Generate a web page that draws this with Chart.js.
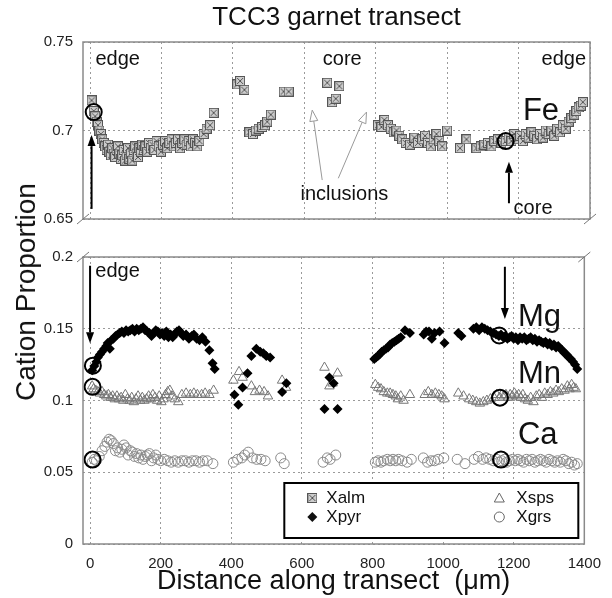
<!DOCTYPE html>
<html>
<head>
<meta charset="utf-8">
<script src="https://cdn.jsdelivr.net/npm/chart.js@4.4.0/dist/chart.umd.min.js"></script>
<style>
  html, body { margin: 0; padding: 0; background: #fff; }
  #wrap { position: relative; width: 612px; height: 598px; font-family: "Liberation Sans", Arial, sans-serif; }
  #top { position: absolute; left: 0; top: 0; }
  #bot { position: absolute; left: 0; top: 238px; }
  #ytitle { position: absolute; left: 26px; top: 292px; transform: translate(-50%, -50%) rotate(-90deg);
            font-size: 28px; white-space: nowrap; color: #111; }
</style>
</head>
<body>
<div id="wrap">
  <canvas id="top" width="612" height="238"></canvas>
  <canvas id="bot" width="612" height="360"></canvas>
  <div id="ytitle">Cation Proportion</div>
</div>
<script>
// distance (µm), cation proportion
const xalm = [
  [4,0.717],[10,0.711],[14,0.708],[18,0.705],[22,0.703],[26,0.700],[30,0.698],[34,0.695],[38,0.693],[42,0.691],
  [46,0.689],[50,0.692],[54,0.688],[58,0.686],[62,0.690],[66,0.687],[70,0.685],[74,0.689],[78,0.691],[82,0.687],
  [86,0.684],[90,0.686],[94,0.689],[98,0.683],[102,0.686],[106,0.690],[110,0.684],[114,0.687],[118,0.683],[122,0.689],
  [126,0.691],[130,0.687],[134,0.685],[138,0.690],[142,0.688],[146,0.692],[150,0.689],[155,0.691],[160,0.688],[165,0.693],
  [170,0.690],[175,0.692],[180,0.689],[186,0.694],[192,0.691],[198,0.688],[204,0.692],[210,0.694],[216,0.690],[222,0.693],
  [228,0.695],[234,0.691],[240,0.693],[246,0.695],[252,0.690],[258,0.693],[264,0.695],[270,0.692],[276,0.694],[282,0.691],
  [288,0.695],[294,0.693],[300,0.691],[306,0.694],[318,0.698],[326,0.701],[336,0.703],[346,0.710],
  [412,0.726],[420,0.728],[432,0.723],
  [446,0.699],[456,0.698],[464,0.700],[472,0.701],[482,0.702],[490,0.703],[496,0.705],[506,0.709],[542,0.722],[556,0.722],
  [664,0.727],[698,0.725],[678,0.716],[688,0.718],
  [806,0.703],[816,0.702],[824,0.706],[834,0.703],[842,0.701],[850,0.699],[858,0.700],[866,0.697],[874,0.695],[884,0.693],
  [896,0.692],[908,0.696],[918,0.693],[930,0.695],[938,0.697],[946,0.693],[954,0.691],[962,0.695],[970,0.698],[978,0.694],
  [986,0.691],[1000,0.700],[1036,0.690],[1054,0.695],[1082,0.690],[1094,0.691],[1104,0.692],[1114,0.693],[1124,0.691],[1132,0.694],
  [1142,0.695],[1152,0.693],[1164,0.694],[1172,0.696],[1180,0.694],[1188,0.698],[1196,0.695],[1204,0.697],[1212,0.694],[1220,0.698],
  [1228,0.696],[1236,0.699],[1244,0.697],[1252,0.695],[1260,0.698],[1268,0.696],[1276,0.700],[1284,0.698],[1292,0.700],[1300,0.697],
  [1308,0.701],[1316,0.699],[1324,0.703],[1332,0.701],[1340,0.705],[1348,0.707],[1356,0.709],[1362,0.711],[1368,0.713],[1374,0.714],
  [1380,0.716]
];
const xpyr = [
  [6,0.121],[12,0.124],[18,0.127],[22,0.130],[28,0.132],[34,0.134],[40,0.136],[46,0.138],[50,0.140],[56,0.136],
  [60,0.142],[66,0.143],[72,0.145],[78,0.146],[84,0.147],[90,0.148],[96,0.147],[102,0.149],[108,0.148],[114,0.149],
  [120,0.150],[126,0.148],[132,0.150],[138,0.149],[144,0.150],[150,0.151],[156,0.149],[162,0.148],[168,0.147],[174,0.145],
  [180,0.147],[186,0.149],[192,0.148],[198,0.146],[204,0.147],[210,0.145],[216,0.148],[222,0.144],[228,0.146],[234,0.144],
  [240,0.146],[246,0.148],[252,0.149],[258,0.147],[264,0.145],[272,0.146],[280,0.143],[288,0.145],[294,0.146],[302,0.143],
  [310,0.142],[318,0.144],[327,0.141],[338,0.135],[347,0.126],[353,0.122],
  [409,0.104],[420,0.097],[432,0.109],[446,0.119],[457,0.131],[471,0.136],[482,0.134],[491,0.133],[499,0.131],[510,0.130],
  [544,0.106],[556,0.112],
  [664,0.094],[678,0.116],[690,0.112],[701,0.094],
  [805,0.129],[810,0.130],[815,0.131],[820,0.132],[826,0.134],[832,0.135],[838,0.136],[844,0.137],[850,0.139],[856,0.140],
  [862,0.141],[868,0.142],[874,0.143],[880,0.144],[892,0.149],[906,0.147],[945,0.146],[952,0.148],[960,0.148],[968,0.143],
  [976,0.147],[990,0.148],[1004,0.140],[1043,0.147],[1052,0.145],[1086,0.150],[1094,0.151],[1102,0.149],[1110,0.151],[1118,0.150],
  [1126,0.149],[1134,0.148],[1142,0.147],[1150,0.146],[1158,0.145],[1164,0.146],[1170,0.144],[1176,0.145],[1182,0.143],[1188,0.144],
  [1194,0.145],[1200,0.143],[1206,0.144],[1212,0.142],[1218,0.144],[1224,0.143],[1230,0.144],[1236,0.142],[1242,0.143],[1248,0.144],
  [1254,0.142],[1260,0.143],[1266,0.141],[1272,0.142],[1278,0.141],[1284,0.140],[1290,0.141],[1296,0.139],[1302,0.140],[1308,0.138],
  [1314,0.139],[1320,0.137],[1326,0.138],[1332,0.136],[1338,0.135],[1344,0.133],[1350,0.132],[1356,0.130],[1362,0.129],[1368,0.127],
  [1374,0.125],[1380,0.122]
];
const xsps = [
  [6,0.110],[10,0.108],[16,0.107],[22,0.106],[28,0.105],[34,0.106],[40,0.104],[46,0.103],[52,0.104],[58,0.102],
  [64,0.103],[70,0.101],[76,0.103],[82,0.101],[88,0.102],[94,0.100],[100,0.104],[106,0.101],[112,0.100],[118,0.102],
  [124,0.099],[130,0.101],[136,0.103],[142,0.100],[148,0.102],[154,0.100],[160,0.101],[166,0.103],[172,0.101],[178,0.104],
  [184,0.102],[190,0.100],[196,0.103],[202,0.099],[208,0.101],[214,0.104],[220,0.106],[226,0.107],[232,0.103],[240,0.101],
  [250,0.099],[260,0.104],[272,0.105],[284,0.104],[294,0.105],[304,0.104],[316,0.104],[326,0.105],[338,0.104],[350,0.107],
  [406,0.114],[422,0.120],[432,0.116],[457,0.110],[467,0.106],[480,0.107],[493,0.106],[504,0.103],[544,0.114],[555,0.109],
  [664,0.123],[678,0.110],[687,0.112],[701,0.119],
  [808,0.111],[816,0.109],[824,0.108],[832,0.106],[842,0.105],[850,0.105],[858,0.104],[866,0.103],[872,0.101],[880,0.103],
  [888,0.100],[906,0.104],[948,0.104],[958,0.106],[968,0.104],[978,0.105],[988,0.104],[996,0.103],[1004,0.101],[1043,0.105],
  [1058,0.103],[1074,0.101],[1084,0.100],[1094,0.099],[1104,0.098],[1114,0.099],[1124,0.100],[1134,0.101],[1144,0.102],[1152,0.104],
  [1160,0.102],[1166,0.104],[1172,0.103],[1178,0.104],[1184,0.102],[1190,0.104],[1196,0.103],[1202,0.105],[1208,0.103],[1214,0.104],
  [1220,0.102],[1226,0.104],[1232,0.101],[1240,0.100],[1248,0.102],[1256,0.099],[1264,0.103],[1272,0.104],[1280,0.102],[1288,0.105],
  [1296,0.104],[1304,0.106],[1312,0.105],[1320,0.107],[1328,0.106],[1336,0.108],[1344,0.107],[1352,0.110],[1358,0.108],[1364,0.111],
  [1370,0.109],[1376,0.108]
];
const xgrs = [
  [6,0.057],[12,0.059],[18,0.058],[26,0.061],[34,0.065],[42,0.068],[48,0.071],[54,0.073],[60,0.072],[66,0.070],
  [72,0.065],[78,0.067],[84,0.064],[90,0.066],[96,0.069],[102,0.067],[108,0.062],[114,0.065],[120,0.064],[126,0.061],
  [132,0.063],[138,0.060],[144,0.062],[150,0.059],[156,0.061],[162,0.062],[168,0.063],[174,0.058],[180,0.060],[186,0.062],
  [192,0.059],[200,0.058],[210,0.059],[220,0.058],[230,0.057],[240,0.058],[250,0.057],[260,0.058],[270,0.058],[280,0.057],
  [290,0.058],[300,0.058],[310,0.057],[320,0.058],[332,0.058],[348,0.056],
  [406,0.057],[418,0.059],[430,0.060],[438,0.062],[448,0.064],[460,0.060],[472,0.059],[484,0.059],[496,0.058],[540,0.060],
  [550,0.056],
  [660,0.057],[672,0.060],[680,0.059],[696,0.062],
  [808,0.057],[816,0.058],[824,0.057],[832,0.058],[842,0.059],[850,0.058],[858,0.059],[866,0.058],[874,0.059],[884,0.058],
  [898,0.057],[910,0.059],[944,0.060],[956,0.057],[966,0.058],[976,0.058],[986,0.059],[1002,0.060],[1040,0.059],[1062,0.056],
  [1088,0.059],[1100,0.061],[1112,0.059],[1122,0.060],[1132,0.059],[1142,0.058],[1152,0.059],[1158,0.057],[1166,0.058],[1174,0.059],
  [1180,0.057],[1188,0.058],[1196,0.059],[1204,0.058],[1212,0.059],[1220,0.058],[1228,0.057],[1236,0.059],[1244,0.058],[1252,0.059],
  [1260,0.057],[1268,0.058],[1276,0.059],[1284,0.058],[1292,0.057],[1300,0.059],[1308,0.058],[1316,0.057],[1324,0.058],[1332,0.057],
  [1340,0.059],[1348,0.058],[1356,0.056],[1364,0.057],[1372,0.055],[1380,0.056]
];
// circled reference points
const markTop = [[10,0.7104],[1164,0.694]];
const markBot = [[8,0.1243],[7,0.1095],[7,0.0588],[1159,0.1453],[1161,0.102],[1164,0.0588]];

const xTicks = [0, 200, 400, 600, 800, 1000, 1200, 1400];
const topTicks = [0.65, 0.7, 0.75];
const botTicks = [0, 0.05, 0.1, 0.15, 0.2];

const FONT = '"Liberation Sans", Arial, sans-serif';
Chart.defaults.font.family = FONT;
Chart.defaults.color = '#222';

function almMarker() {
  const c = document.createElement('canvas');
  c.width = 10; c.height = 10;
  const g = c.getContext('2d');
  g.fillStyle = '#cccccc';
  g.fillRect(0, 0, 10, 10);
  g.strokeStyle = '#555';
  g.lineWidth = 1;
  g.strokeRect(0.5, 0.5, 9, 9);
  g.beginPath();
  g.moveTo(2, 2); g.lineTo(8, 8);
  g.moveTo(8, 2); g.lineTo(2, 8);
  g.stroke();
  return c;
}
const ALM = almMarker();
const pts = arr => arr.map(p => ({ x: p[0], y: p[1] }));

function arrow(ctx, x1, y1, x2, y2, color, open) {
  const a = Math.atan2(y2 - y1, x2 - x1);
  const len = 11, hw = 4;
  const bx = x2 - len * Math.cos(a), by = y2 - len * Math.sin(a);
  ctx.save();
  ctx.strokeStyle = color; ctx.fillStyle = color;
  ctx.lineWidth = open ? 1 : 2;
  ctx.beginPath(); ctx.moveTo(x1, y1); ctx.lineTo(bx, by); ctx.stroke();
  ctx.beginPath();
  ctx.moveTo(x2, y2);
  ctx.lineTo(bx + hw * Math.sin(a), by - hw * Math.cos(a));
  ctx.lineTo(bx - hw * Math.sin(a), by + hw * Math.cos(a));
  ctx.closePath();
  if (open) { ctx.fillStyle = '#fff'; ctx.fill(); ctx.stroke(); } else ctx.fill();
  ctx.restore();
}

function slash(ctx, cx, cy) {
  ctx.save();
  ctx.strokeStyle = '#777'; ctx.lineWidth = 1;
  ctx.beginPath(); ctx.moveTo(cx + 6, cy - 5); ctx.lineTo(cx - 6, cy + 5); ctx.stroke();
  ctx.restore();
}

const deco = {
  id: 'deco',
  afterDatasetsDraw(chart, args, opts) {
    const { ctx, chartArea: a, scales: { x, y } } = chart;
    const X = v => x.getPixelForValue(v), Y = v => y.getPixelForValue(v);
    ctx.save();
    ctx.strokeStyle = '#8a8a8a'; ctx.lineWidth = 1.5;
    ctx.strokeRect(a.left, a.top, a.right - a.left, a.bottom - a.top);
    ctx.restore();
    if (opts.title) {
      ctx.save();
      ctx.font = '26px ' + FONT; ctx.fillStyle = '#111';
      ctx.textAlign = 'center'; ctx.textBaseline = 'middle';
      ctx.fillText(opts.title, (a.left + a.right) / 2, 18);
      ctx.restore();
    }
    (opts.breaks || []).forEach(edge => {
      const yy = edge === 'bottom' ? a.bottom : a.top;
      slash(ctx, a.left, yy); slash(ctx, a.right, yy);
    });
    (opts.texts || []).forEach(t => {
      ctx.save();
      ctx.font = t.size + 'px ' + FONT;
      ctx.fillStyle = '#111';
      ctx.textAlign = t.align; ctx.textBaseline = 'middle';
      ctx.fillText(t.text, X(t.x), Y(t.y));
      ctx.restore();
    });
    (opts.arrows || []).forEach(r => arrow(ctx, X(r[0]), Y(r[1]), X(r[2]), Y(r[3]), r[4], r[5]));
    if (opts.legend) {
      const w = 294, h = 55, L = a.right - 6 - w, T = a.bottom - 6 - h;
      ctx.save();
      ctx.fillStyle = '#fff'; ctx.fillRect(L, T, w, h);
      ctx.strokeStyle = '#000'; ctx.lineWidth = 2; ctx.strokeRect(L, T, w, h);
      ctx.font = '17px ' + FONT; ctx.fillStyle = '#111'; ctx.textBaseline = 'middle'; ctx.textAlign = 'left';
      const r1 = T + 15, r2 = T + 34;
      ctx.drawImage(ALM, L + 23, r1 - 5, 10, 10);
      ctx.fillText('Xalm', L + 42, r1);
      ctx.beginPath(); ctx.moveTo(L + 28, r2 - 5); ctx.lineTo(L + 33, r2); ctx.lineTo(L + 28, r2 + 5); ctx.lineTo(L + 23, r2); ctx.closePath(); ctx.fill();
      ctx.fillText('Xpyr', L + 42, r2);
      ctx.strokeStyle = '#666'; ctx.lineWidth = 1;
      ctx.beginPath(); ctx.moveTo(L + 215, r1 - 5); ctx.lineTo(L + 220, r1 + 4); ctx.lineTo(L + 210, r1 + 4); ctx.closePath(); ctx.stroke();
      ctx.fillText('Xsps', L + 232, r1);
      ctx.beginPath(); ctx.arc(L + 215, r2, 5, 0, Math.PI * 2); ctx.stroke();
      ctx.fillText('Xgrs', L + 232, r2);
      ctx.restore();
    }
  }
};

const gridX = { color: '#9a9a9a', lineWidth: 1, drawTicks: false };
const borderX = { display: false, dash: [2, 3] };

function xScale(showLabels) {
  return {
    type: 'linear', min: -20, max: 1400,
    grid: gridX, border: borderX,
    ticks: { display: showLabels, stepSize: 200, includeBounds: false, padding: 11, font: { size: 15 }, color: '#222',
             callback: v => String(v) },
    title: showLabels ? { display: true, text: 'Distance along transect  (\u03bcm)', font: { size: 27 }, color: '#111', padding: { top: 0, bottom: 0 } } : { display: false },
    afterBuildTicks: s => { s.ticks = xTicks.map(v => ({ value: v })); },
    afterFit: s => { s.height = showLabels ? 54 : 4; }
  };
}
function yScale(min, max, ticks) {
  return {
    type: 'linear', min: min, max: max,
    grid: gridX, border: borderX,
    ticks: { stepSize: 0.05, padding: 10, font: { size: 15 }, color: '#222', callback: v => String(v) },
    afterBuildTicks: s => { s.ticks = ticks.map(v => ({ value: v })); },
    afterFit: s => { s.width = 83; }
  };
}
const markSet = data => ({
  label: 'mark', data: pts(data), pointStyle: 'circle', pointRadius: 8,
  pointBorderWidth: 2, pointBorderColor: '#000', pointBackgroundColor: 'rgba(0,0,0,0)'
});

new Chart(document.getElementById('top'), {
  type: 'scatter',
  data: {
    datasets: [
      markSet(markTop),
      { label: 'Xalm', data: pts(xalm), pointStyle: ALM, pointRadius: 5 }
    ]
  },
  options: {
    responsive: false, animation: false, events: [],
    layout: { padding: { left: 0, right: 22, top: 42, bottom: 0 } },
    scales: { x: xScale(false), y: yScale(0.65, 0.75, topTicks) },
    plugins: {
      legend: { display: false }, tooltip: { enabled: false },
      deco: {
        title: 'TCC3 garnet transect',
        breaks: ['bottom'],
        texts: [
          { text: 'edge', x: 15, y: 0.7401, align: 'left', size: 20 },
          { text: 'core', x: 706, y: 0.7401, align: 'center', size: 20 },
          { text: 'edge', x: 1389, y: 0.7401, align: 'right', size: 20 },
          { text: 'Fe', x: 1212, y: 0.7109, align: 'left', size: 31 },
          { text: 'inclusions', x: 712, y: 0.664, align: 'center', size: 20 },
          { text: 'core', x: 1186, y: 0.6557, align: 'left', size: 20 }
        ],
        arrows: [
          [4, 0.6557, 4, 0.6974, '#000', false],
          [1173, 0.6589, 1173, 0.6823, '#000', false],
          [650, 0.672, 622, 0.7115, '#999', true],
          [695, 0.673, 774, 0.7104, '#999', true]
        ]
      }
    }
  },
  plugins: [deco]
});

new Chart(document.getElementById('bot'), {
  type: 'scatter',
  data: {
    datasets: [
      markSet(markBot),
      { label: 'Xpyr', data: pts(xpyr), pointStyle: 'rectRot', pointRadius: 5, pointBackgroundColor: '#000', pointBorderColor: '#000', pointBorderWidth: 0 },
      { label: 'Xsps', data: pts(xsps), pointStyle: 'triangle', pointRadius: 5.5, pointBackgroundColor: 'rgba(0,0,0,0)', pointBorderColor: '#777', pointBorderWidth: 1 },
      { label: 'Xgrs', data: pts(xgrs), pointStyle: 'circle', pointRadius: 5, pointBackgroundColor: 'rgba(0,0,0,0)', pointBorderColor: '#8a8a8a', pointBorderWidth: 1 }
    ]
  },
  options: {
    responsive: false, animation: false, events: [],
    layout: { padding: { left: 0, right: 22, top: 10, bottom: 0 } },
    scales: { x: xScale(true), y: yScale(0, 0.2, botTicks) },
    plugins: {
      legend: { display: false }, tooltip: { enabled: false },
      deco: {
        breaks: ['top'],
        legend: true,
        texts: [
          { text: 'edge', x: 15, y: 0.1899, align: 'left', size: 20 },
          { text: 'Mg', x: 1212, y: 0.1581, align: 'left', size: 31 },
          { text: 'Mn', x: 1212, y: 0.1182, align: 'left', size: 31 },
          { text: 'Ca', x: 1212, y: 0.0757, align: 'left', size: 31 }
        ],
        arrows: [
          [0, 0.1939, 0, 0.1399, '#000', false],
          [1175, 0.1932, 1175, 0.1568, '#000', false]
        ]
      }
    }
  },
  plugins: [deco]
});
</script>
</body>
</html>
